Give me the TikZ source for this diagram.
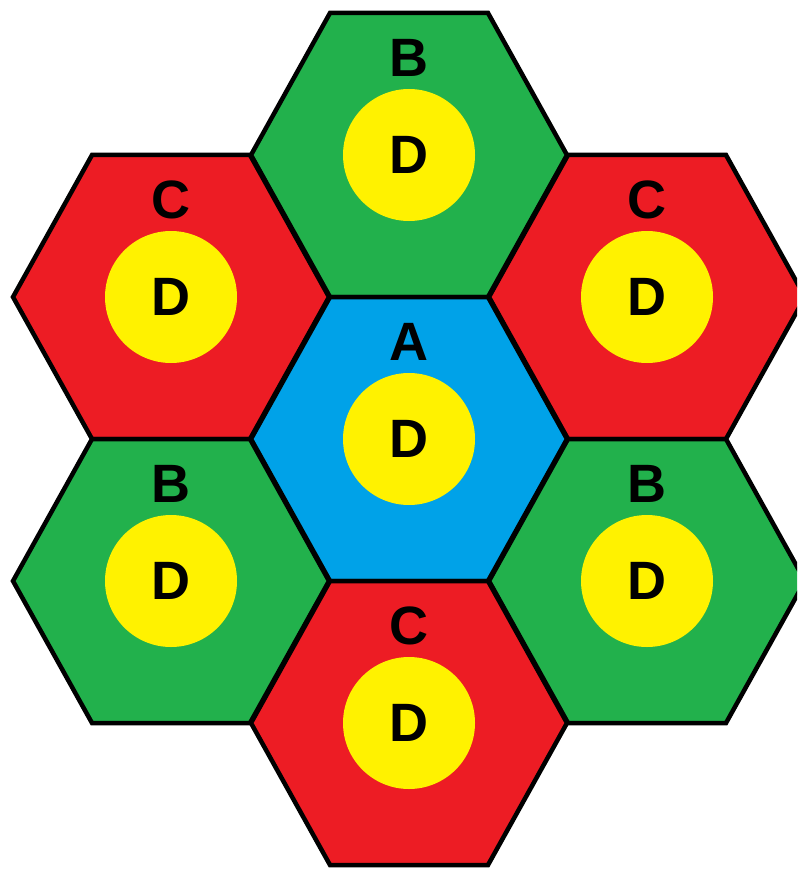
\documentclass[tikz,border=0pt]{standalone}
\usepackage{fontspec}
\setmainfont{Liberation Sans}
\definecolor{Grass}{HTML}{22B14C}
\definecolor{Brick}{HTML}{ED1C24}
\definecolor{Sky}{HTML}{00A2E8}
\definecolor{Lemon}{HTML}{FFF200}
\tikzset{
  cell/.style={draw=black, line width=4.5pt, fill=#1},
  core/.style={circle, fill=Lemon, minimum size=132pt, inner sep=0pt, font=\bfseries\fontsize{54}{54}\selectfont},
  tag/.style={inner sep=0pt, font=\bfseries\fontsize{54}{54}\selectfont}
}

\begin{document}
\begin{tikzpicture}[x=1pt, y=-1pt]
  \useasboundingbox (0,0) rectangle (797,869);
  \clip (0,0) rectangle (797,869);

  % cells: name / x / y / fill
  \foreach \n/\x/\y/\col in {top/409/155/Grass, nw/171/297/Brick, ne/647/297/Brick,
      mid/409/439/Sky, sw/171/581/Grass, se/647/581/Grass, bot/409/723/Brick} {
    \coordinate (\n) at (\x,\y);
    \draw[cell=\col] (\x-158,\y) -- (\x-79,\y-142) -- (\x+79,\y-142)
      -- (\x+158,\y) -- (\x+79,\y+142) -- (\x-79,\y+142) -- cycle;
  }

  % yellow centres and letters
  \foreach \n/\lbl in {top/B, nw/C, ne/C, mid/A, sw/B, se/B, bot/C} {
    \node[core] (\n-d) at (\n) {D};
    \node[tag] (\n-l) at ([yshift=97pt]\n) {\lbl};
  }
\end{tikzpicture}
\end{document}
